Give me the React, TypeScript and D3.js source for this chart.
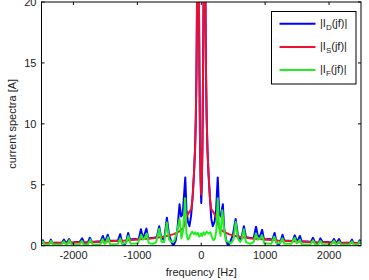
import React from 'react';
import * as d3 from 'd3';

// spectra as [frequency Hz, amplitude A] vertices
const driveCurrent: [number, number][] = [
  [-2500, 0.3], [-2478, 0.45], [-2450, 0.1], [-2420, 0.05], [-2385, 0.15], [-2354, 0.5], [-2325, 0.2],
  [-2270, 0.25], [-2190, 0.15], [-2149, 0.5], [-2120, 0.25], [-2095, 0.3], [-2068, 0.55], [-2035, 0.2],
  [-1960, 0.3], [-1905, 0.3], [-1863, 0.6], [-1830, 0.2], [-1800, 0.1], [-1775, 0.25], [-1744, 0.65],
  [-1710, 0.3], [-1620, 0.35], [-1575, 0.35], [-1539, 0.8], [-1515, 0.4], [-1495, 0.45], [-1463, 0.9],
  [-1435, 0.4], [-1350, 0.4], [-1305, 0.4], [-1268, 0.95], [-1240, 0.3], [-1205, 0.0], [-1175, 0.3],
  [-1144, 1.05], [-1115, 0.5], [-1030, 0.55], [-980, 0.5], [-944, 1.35], [-915, 0.7], [-895, 0.8],
  [-858, 1.4], [-830, 0.6], [-745, 0.65], [-695, 0.7], [-658, 1.6], [-625, 0.6], [-590, 0.5], [-570, 0.9],
  [-538, 2.3], [-505, 0.9], [-465, 0.3], [-438, 0.0], [-400, 0.4], [-370, 1.5], [-340, 3.4], [-315, 2.4],
  [-290, 2.6], [-250, 5.6], [-232, 3.0], [-210, 2.0], [-185, 1.6], [-160, 2.4], [-135, 4.0], [-115, 5.8],
  [-97, 7.9], [-85, 10.5], [-75, 14], [-66, 20], [-56, 26], [-50, 28], [-44, 26], [-36, 20], [-28, 14],
  [-18, 8], [-9, 5], [0, 3.5], [9, 5], [18, 8], [28, 14], [36, 20], [44, 26], [50, 28], [56, 26], [66, 20],
  [75, 14], [85, 10.5], [97, 7.9], [115, 5.8], [135, 4.0], [157, 2.2], [181, 1.6], [210, 2.0], [233, 3.0],
  [258, 5.6], [281, 2.6], [305, 2.4], [338, 3.4], [357, 1.5], [391, 0.4], [420, 0.0], [453, 0.3],
  [496, 0.9], [538, 2.2], [572, 0.9], [600, 0.5], [629, 0.6], [667, 1.6], [700, 0.7], [753, 0.65],
  [820, 0.6], [857, 1.55], [886, 0.8], [915, 0.7], [953, 1.3], [982, 0.5], [1067, 0.55], [1115, 0.5],
  [1148, 1.05], [1177, 0.3], [1205, 0.0], [1239, 0.3], [1272, 0.9], [1300, 0.4], [1382, 0.4], [1430, 0.35],
  [1463, 0.85], [1492, 0.45], [1510, 0.4], [1544, 0.8], [1572, 0.35], [1658, 0.35], [1715, 0.3],
  [1749, 0.65], [1782, 0.25], [1811, 0.1], [1835, 0.2], [1865, 0.6], [1897, 0.3], [1982, 0.3], [2040, 0.25],
  [2077, 0.55], [2106, 0.25], [2125, 0.3], [2156, 0.55], [2188, 0.15], [2278, 0.25], [2325, 0.2],
  [2359, 0.5], [2387, 0.15], [2420, 0.05], [2450, 0.1], [2480, 0.45], [2500, 0.3],
];

const statorCurrent: [number, number][] = [
  [-2500, 0.22], [-2300, 0.24], [-2000, 0.27], [-1700, 0.31], [-1430, 0.36], [-1200, 0.42], [-950, 0.52],
  [-760, 0.62], [-570, 0.76], [-430, 0.95], [-335, 1.2], [-280, 1.45], [-230, 2.4], [-190, 2.75],
  [-155, 3.0], [-135, 4.0], [-115, 5.8], [-97, 7.9], [-85, 10.5], [-75, 14], [-66, 20], [-56, 26],
  [-50, 28], [-44, 26], [-36, 20], [-28, 14], [-18, 8], [-9, 5.5], [0, 4.2], [9, 5.5], [18, 8], [28, 14],
  [36, 20], [44, 26], [50, 28], [56, 26], [66, 20], [75, 14], [85, 10.5], [97, 7.9], [115, 5.8], [135, 4.0],
  [155, 3.0], [190, 2.75], [230, 2.4], [280, 1.45], [335, 1.2], [430, 0.95], [570, 0.76], [760, 0.62],
  [950, 0.52], [1200, 0.42], [1430, 0.36], [1700, 0.31], [2000, 0.27], [2300, 0.24], [2500, 0.22],
];

const filterCurrent: [number, number][] = [
  [-2500, 0.3], [-2478, 0.35], [-2450, 0.1], [-2385, 0.1], [-2350, 0.4], [-2320, 0.1], [-2190, 0.1],
  [-2150, 0.35], [-2120, 0.1], [-2095, 0.1], [-2065, 0.45], [-2030, 0.1], [-1905, 0.1], [-1868, 0.4],
  [-1840, 0.1], [-1775, 0.1], [-1735, 0.5], [-1700, 0.1], [-1580, 0.1], [-1543, 0.55], [-1515, 0.15],
  [-1495, 0.2], [-1460, 0.7], [-1425, 0.1], [-1305, 0.15], [-1268, 0.6], [-1240, 0.15], [-1180, 0.2],
  [-1140, 0.8], [-1105, 0.15], [-990, 0.2], [-940, 0.9], [-910, 0.5], [-890, 0.55], [-853, 1.0],
  [-820, 0.2], [-750, 0.15], [-705, 0.3], [-658, 1.4], [-620, 0.3], [-580, 0.3], [-538, 1.9], [-505, 0.5],
  [-457, 0.3], [-420, 0.4], [-372, 1.3], [-340, 2.2], [-310, 0.6], [-285, 1.2], [-252, 3.9], [-232, 1.0],
  [-210, 0.5], [-190, 0.6], [-170, 0.9], [-145, 1.15], [-115, 0.95], [-95, 1.1], [-75, 0.9], [-55, 1.05],
  [-30, 0.75], [-10, 0.9], [0, 1.0], [15, 0.8], [35, 1.1], [57, 0.9], [85, 1.15], [115, 1.0], [143, 1.1],
  [167, 0.7], [190, 0.45], [215, 0.6], [235, 1.2], [258, 3.9], [282, 1.4], [302, 0.8], [330, 2.9],
  [358, 1.3], [387, 0.4], [430, 0.3], [467, 0.2], [505, 0.5], [538, 1.95], [572, 0.6], [610, 0.3],
  [633, 0.5], [667, 1.35], [700, 0.3], [762, 0.15], [820, 0.3], [855, 1.0], [887, 0.5], [915, 0.55],
  [953, 0.85], [986, 0.2], [1096, 0.15], [1144, 0.75], [1177, 0.2], [1230, 0.2], [1272, 0.6], [1300, 0.15],
  [1410, 0.15], [1463, 0.65], [1492, 0.2], [1510, 0.25], [1544, 0.5], [1572, 0.1], [1706, 0.1],
  [1749, 0.45], [1782, 0.1], [1830, 0.1], [1865, 0.4], [1897, 0.1], [2030, 0.1], [2077, 0.4], [2106, 0.1],
  [2125, 0.1], [2156, 0.35], [2188, 0.1], [2316, 0.1], [2359, 0.35], [2387, 0.1], [2450, 0.1],
  [2480, 0.35], [2500, 0.2],
];

const xTicks = [-2000, -1000, 0, 1000, 2000];
const yTicks = [0, 5, 10, 15, 20];

const series = [
  { sub: 'D', values: driveCurrent, color: '#0000ff' },
  { sub: 'S', values: statorCurrent, color: '#ee1030' },
  { sub: 'F', values: filterCurrent, color: '#22ee22' },
];

const W = 369;
const H = 280;
const plot = { left: 41.5, right: 361, top: 2, bottom: 245.7 };
const font = '"Liberation Sans", Arial, sans-serif';

const App = () => {
  const x = d3.scaleLinear().domain([-2500, 2500]).range([plot.left, plot.right]);
  const y = d3.scaleLinear().domain([0, 20]).range([plot.bottom, plot.top]);
  const line = d3
    .line<[number, number]>()
    .x(d => x(d[0]))
    .y(d => y(d[1]));

  return (
    <svg width={W} height={H} style={{ position: 'absolute', left: 0, top: 0, background: '#fff' }} fontFamily={font}>
      <defs>
        <clipPath id="plotArea">
          <rect x={plot.left} y={plot.top} width={plot.right - plot.left} height={plot.bottom - plot.top} />
        </clipPath>
      </defs>

      <g clipPath="url(#plotArea)">
        {series.map(s => (
          <path key={s.sub} d={line(s.values) ?? ''} fill="none" stroke={s.color} strokeWidth={2} strokeLinejoin="round" />
        ))}
      </g>

      {/* box with inward ticks on all four sides */}
      <rect x={plot.left} y={plot.top} width={plot.right - plot.left} height={plot.bottom - plot.top} fill="none" stroke="#000" strokeWidth={1} />
      {xTicks.map(t => (
        <g key={`x${t}`}>
          <line x1={x(t)} x2={x(t)} y1={plot.bottom} y2={plot.bottom - 3} stroke="#000" />
          <line x1={x(t)} x2={x(t)} y1={plot.top} y2={plot.top + 3} stroke="#000" />
          <text x={x(t)} y={259} fontSize={11} textAnchor="middle" fill="#222">{t}</text>
        </g>
      ))}
      {yTicks.map(t => (
        <g key={`y${t}`}>
          <line x1={plot.left} x2={plot.left + 3} y1={y(t)} y2={y(t)} stroke="#000" />
          <line x1={plot.right} x2={plot.right - 3} y1={y(t)} y2={y(t)} stroke="#000" />
          <text x={36.5} y={y(t) + 4} fontSize={11} textAnchor="end" fill="#222">{t}</text>
        </g>
      ))}

      <text x={(plot.left + plot.right) / 2} y={276} fontSize={11} textAnchor="middle" fill="#222">frequency [Hz]</text>
      <text transform={`translate(16, ${(plot.top + plot.bottom) / 2}) rotate(-90)`} fontSize={11} textAnchor="middle" fill="#222">
        current spectra [A]
      </text>

      {/* legend */}
      <rect x={271.5} y={11.5} width={84.5} height={72.5} fill="#fff" stroke="#000" strokeWidth={1} />
      {series.map((s, i) => (
        <g key={`lg${s.sub}`} transform={`translate(0, ${23.7 + i * 23.2})`}>
          <line x1={279.5} x2={315.5} y1={0} y2={0} stroke={s.color} strokeWidth={2} />
          <text x={320} y={3} fontSize={11} fill="#222">
            |I<tspan fontSize={8} dy={3}>{s.sub}</tspan>
            <tspan dy={-3}>(jf)|</tspan>
          </text>
        </g>
      ))}
    </svg>
  );
};

export default App;
